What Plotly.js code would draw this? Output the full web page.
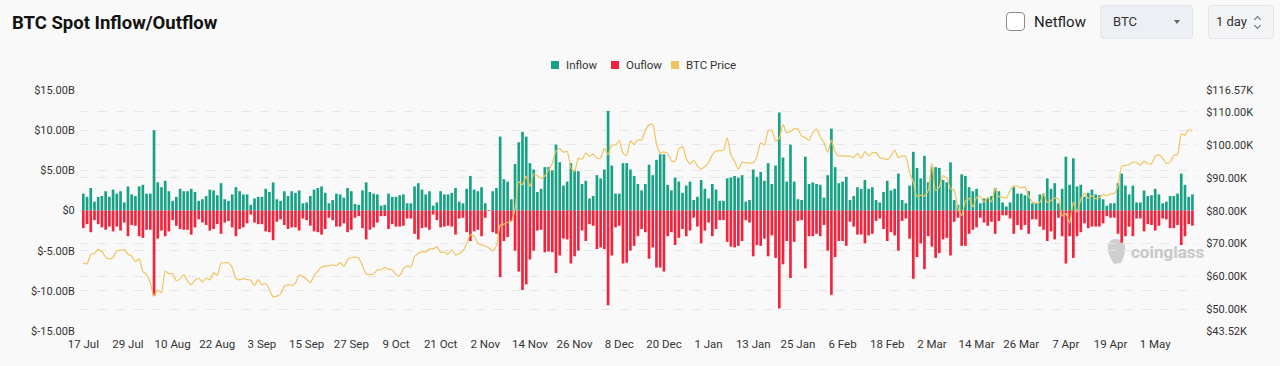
<!DOCTYPE html>
<html><head><meta charset="utf-8">
<script src="https://cdn.plot.ly/plotly-3.0.1.min.js"></script>
<style>
html,body{margin:0;padding:0;background:#f9f9f9;width:1280px;height:366px;overflow:hidden;font-family:Roboto,"Noto Sans",sans-serif;}
#chart{position:absolute;left:0;top:0;width:1280px;height:366px;}
.box{position:absolute;box-sizing:border-box;border-radius:4px;}
.txt{position:absolute;color:#222;white-space:nowrap;}
</style></head><body>
<div id="chart"></div>
<div class="box" style="left:1006px;top:12px;width:19px;height:19px;border:1.5px solid #8c8c8c;background:#fff;border-radius:4px;"></div>
<div class="txt" style="left:1034px;top:12px;font-size:15px;line-height:20px;">Netflow</div>
<div class="box" style="left:1100px;top:5px;width:93px;height:34px;background:#eceff3;border:1px solid #e2e5e9;"></div>
<div class="txt" style="left:1113px;top:5px;font-size:13px;line-height:34px;color:#333;">BTC</div>
<div style="position:absolute;left:1174px;top:20px;width:0;height:0;border-left:3.5px solid transparent;border-right:3.5px solid transparent;border-top:4px solid #666;"></div>
<div class="box" style="left:1208px;top:5px;width:66px;height:34px;background:#f3f4f6;border:1px solid #e3e5e8;"></div>
<div class="txt" style="left:1216px;top:5px;font-size:13px;line-height:34px;color:#333;">1 day</div>
<div style="position:absolute;left:1255px;top:17px;width:4px;height:4px;border-left:1px solid #666;border-top:1px solid #666;transform:rotate(45deg);"></div>
<div style="position:absolute;left:1255px;top:23px;width:4px;height:4px;border-right:1px solid #666;border-bottom:1px solid #666;transform:rotate(45deg);"></div>
<script>
// ---- data ----
const startDate = '2024-07-17';
const tickLabels = ['17 Jul','29 Jul','10 Aug','22 Aug','3 Sep','15 Sep','27 Sep','9 Oct','21 Oct','2 Nov','14 Nov','26 Nov','8 Dec','20 Dec','1 Jan','13 Jan','25 Jan','6 Feb','18 Feb','2 Mar','14 Mar','26 Mar','7 Apr','19 Apr','1 May'];
const seriesNames = ['Inflow','Ouflow','BTC Price'];
// inflow, $B
const inflow = [
2.1,1.7,2.8,1.1,1.7,1.8,2.4,1.7,2.6,2.1,
2.4,1.0,3.0,2.0,1.8,3.0,3.2,2.1,2.1,10.0,
3.5,2.9,3.7,2.4,1.2,1.7,2.7,2.4,2.4,2.7,
2.3,1.2,1.4,1.8,2.6,2.5,1.9,3.4,1.4,1.2,
2.0,2.9,2.4,2.0,2.0,0.7,1.5,1.7,1.7,2.7,
2.3,3.5,1.4,1.2,2.4,1.8,2.4,2.2,2.5,0.9,
1.0,1.8,2.6,2.8,3.0,2.2,0.9,1.3,2.1,2.0,
1.6,2.8,2.4,0.8,0.7,2.5,3.5,2.3,2.1,2.0,
0.6,0.7,2.1,1.7,1.7,1.9,2.0,0.9,0.9,3.0,
3.4,2.6,2.0,2.4,0.6,1.0,2.4,2.0,2.0,2.2,
2.8,1.1,0.9,2.7,4.3,2.6,2.4,2.9,0.9,0.05,
2.4,2.8,9.2,3.9,3.6,1.4,5.8,8.5,9.8,9.2,
5.9,5.1,2.3,2.7,5.4,5.4,5.0,8.2,6.0,3.1,
3.6,5.9,5.0,4.9,3.3,3.7,1.5,1.8,4.4,4.0,
5.1,12.4,5.6,2.1,2.1,5.9,5.9,5.1,4.3,3.3,
2.5,3.3,5.7,4.4,6.3,7.0,7.0,3.2,2.5,4.1,
3.6,2.2,3.1,3.6,1.3,1.7,3.8,2.7,1.5,3.3,
2.6,1.2,1.2,4.0,4.1,4.3,4.1,4.4,1.1,1.3,
5.1,4.2,4.8,3.7,5.9,3.3,5.6,12.2,6.6,3.6,
8.2,3.6,1.4,1.3,6.7,3.3,3.5,3.3,3.2,1.6,
4.4,10.2,5.4,3.4,3.6,4.2,1.3,1.8,2.9,2.7,
3.8,2.7,2.9,1.3,1.0,2.3,3.7,2.5,2.7,4.6,
1.3,0.9,3.1,7.3,5.3,4.0,6.8,3.5,5.4,5.4,
5.3,3.8,3.5,6.0,1.3,0.7,4.5,4.3,2.9,2.4,
2.7,0.9,1.5,1.5,1.8,2.8,2.4,1.0,0.5,1.0,
2.9,2.1,2.1,1.9,2.4,0.9,0.9,2.0,2.1,4.0,
2.7,3.4,0.9,2.7,6.7,3.2,6.5,3.0,3.2,1.7,
2.2,2.6,2.0,1.9,1.4,0.6,0.9,0.9,3.4,4.6,
3.1,2.0,3.1,1.0,1.0,2.5,1.8,1.9,2.7,2.0,
0.9,1.1,1.8,1.8,2.1,4.6,3.2,1.7,2.0
];
// outflow magnitude, $B
const outflow = [
2.2,1.7,2.7,1.2,1.7,2.1,2.4,2.0,2.6,2.0,
2.5,1.5,3.2,1.8,1.9,3.2,3.4,2.4,2.4,10.6,
3.5,2.5,3.2,2.6,1.2,1.9,2.3,2.4,2.4,3.0,
2.1,1.1,1.5,1.8,2.5,2.3,1.7,2.9,1.5,1.3,
2.1,3.2,2.3,2.1,1.6,0.5,1.5,1.7,1.7,2.6,
2.7,3.7,1.4,1.1,1.8,2.3,2.1,2.1,2.5,1.0,
1.2,1.9,2.6,2.7,3.0,2.3,0.9,1.2,2.0,2.0,
1.6,2.7,2.4,0.9,0.7,2.2,3.6,2.4,2.1,1.5,
0.7,0.7,2.3,1.7,2.0,2.0,1.9,1.0,1.0,2.9,
3.6,2.2,2.1,2.4,0.5,1.2,2.1,2.0,1.9,2.0,
3.0,1.0,0.9,2.7,3.8,2.6,2.4,3.2,0.9,0.05,
2.7,2.9,8.3,3.8,3.3,1.3,5.0,7.6,9.9,9.2,
6.1,5.0,2.5,2.4,5.2,5.1,5.2,7.8,5.6,3.5,
3.6,6.6,5.7,5.0,2.5,3.8,1.7,1.9,4.8,4.6,
4.8,11.8,5.6,2.1,1.9,6.6,6.5,5.0,4.4,3.2,
2.3,2.7,6.0,4.6,7.1,7.1,7.6,3.2,2.7,4.3,
3.4,2.3,3.2,2.5,0.9,2.0,4.1,2.5,1.5,3.2,
2.3,1.2,1.2,3.9,4.5,4.6,4.4,3.8,1.2,1.5,
5.7,4.3,4.4,3.5,5.7,3.1,5.9,12.2,6.7,3.8,
8.4,3.9,1.3,1.2,7.2,3.2,3.2,2.9,3.2,1.8,
5.0,10.5,5.8,3.8,3.8,4.4,1.4,2.0,3.0,3.0,
4.1,3.1,2.9,1.3,1.0,2.3,3.8,2.7,3.1,5.0,
1.3,1.0,3.5,8.5,5.8,4.1,7.3,3.2,4.5,5.9,
5.3,3.6,3.4,5.6,1.4,0.9,4.4,4.4,2.9,2.4,
2.1,0.9,1.5,1.9,1.4,2.9,1.3,0.6,0.6,1.0,
2.9,1.8,2.4,1.8,2.9,1.1,1.1,2.0,2.4,3.8,
2.6,3.6,0.9,3.2,6.6,3.2,5.9,3.2,2.7,1.6,
2.2,2.0,2.0,2.0,1.6,0.7,0.9,0.9,2.9,4.0,
3.2,2.0,3.2,1.0,1.0,2.6,1.7,1.8,2.5,1.9,
1.0,1.1,2.2,2.2,1.8,4.3,3.2,1.7,1.9
];
// BTC price, $K
const price = [
64.1,63.9,66.7,67.1,68.2,67.6,65.9,65.4,65.8,67.9,
68.0,68.2,66.8,66.2,64.6,65.3,61.5,60.7,58.1,54.0,
56.0,55.1,61.7,60.9,60.9,58.7,59.4,60.6,58.7,57.5,
58.9,59.5,58.4,59.5,59.0,61.2,60.4,64.1,64.2,64.2,
62.8,59.4,59.0,59.4,59.1,58.9,57.3,59.1,57.5,58.0,
56.2,53.9,54.1,54.8,57.0,57.6,57.3,58.1,60.5,60.0,
59.2,58.2,60.3,61.7,62.9,63.2,63.3,63.6,63.3,64.3,
63.1,65.2,65.8,65.9,65.6,63.3,60.8,60.6,60.8,62.1,
62.1,62.8,62.2,62.1,60.6,60.3,62.4,63.2,62.9,66.1,
67.0,67.6,67.4,68.4,68.4,69.0,67.4,67.4,66.7,68.2,
66.6,67.0,67.9,69.9,72.7,72.3,70.2,69.5,69.3,68.7,
67.8,69.4,75.6,75.9,76.5,76.7,80.5,88.7,87.9,90.5,
87.3,91.1,90.6,89.8,90.5,92.3,94.3,98.0,98.9,97.7,
98.0,93.0,91.9,95.9,95.6,97.5,96.4,97.2,95.9,96.0,
98.8,97.0,99.9,99.9,101.2,97.4,96.7,101.2,100.0,101.5,
101.4,104.3,106.0,106.1,100.2,97.5,97.8,97.2,95.2,94.9,
98.7,99.4,95.8,94.2,95.2,93.6,92.6,93.4,94.6,96.9,
98.1,98.2,98.3,102.1,96.9,95.0,92.5,94.7,94.5,94.5,
94.5,96.5,100.5,99.9,104.1,104.4,101.1,102.0,106.1,103.6,
104.0,104.8,104.7,102.6,102.1,101.3,103.7,104.7,102.4,100.6,
97.7,101.4,97.8,96.6,96.6,96.5,96.5,96.1,97.4,95.8,
97.9,96.6,97.5,97.6,96.1,95.8,95.5,96.6,98.3,96.1,
96.6,96.3,91.6,88.7,84.3,84.7,84.4,86.0,94.3,86.1,
87.2,90.6,89.9,86.7,86.2,80.7,78.5,82.9,83.7,81.1,
84.0,84.3,82.6,84.1,82.7,86.8,84.2,84.0,83.8,86.1,
87.5,87.4,86.9,87.2,84.4,82.6,82.3,82.5,85.2,82.5,
83.1,83.8,83.5,78.4,79.1,76.3,82.6,79.6,83.4,85.3,
83.7,84.5,83.6,84.0,84.9,84.5,85.1,85.2,87.5,93.4,
93.7,93.9,94.7,94.6,93.8,95.0,94.3,94.2,96.5,96.9,
95.9,94.3,94.7,96.8,97.0,103.2,102.9,104.6,104.1
];
const leftTicks = [-15,-10,-5,0,5,10,15];
const leftTickText = ['$-15.00B','$-10.00B','$-5.00B','$0','$5.00B','$10.00B','$15.00B'];
const rightTicks = [43.52,50,60,70,80,90,100,110,116.57];
const rightTickText = ['$43.52K','$50.00K','$60.00K','$70.00K','$80.00K','$90.00K','$100.00K','$110.00K','$116.57K'];

// ---- build ----
const DAY = 86400000;
const t0 = Date.parse(startDate + 'T00:00:00Z');
const iso = ms => new Date(ms).toISOString().replace('T',' ').slice(0,19);
const dates = inflow.map((_, i) => iso(t0 + i * DAY).slice(0,10));
const tickVals = tickLabels.map((_, i) => dates[i * 12]);

const GREEN = '#17a285', RED = '#f4233d', GOLD = '#f0c45e';
const traces = [
  {type:'bar', x:dates, y:inflow, name:seriesNames[0], marker:{color:GREEN, line:{width:0}}, hoverinfo:'skip', showlegend:false},
  {type:'bar', x:dates, y:outflow.map(v => -v), name:seriesNames[1], marker:{color:RED, line:{width:0}}, hoverinfo:'skip', showlegend:false},
  {type:'scatter', mode:'lines', x:dates, y:price, name:seriesNames[2], yaxis:'y2', line:{color:GOLD, width:1.2, shape:'spline', smoothing:0.6}, hoverinfo:'skip', showlegend:false}
];

const L = 80, R = 1198, T = 90, B = 331;
const px = v => (v - L) / (R - L);
const py = v => (B - v) / (B - T);
const legendItems = [{c:GREEN, x:551}, {c:RED, x:611}, {c:GOLD, x:671}];
const shapes = legendItems.map(it => ({type:'rect', xref:'paper', yref:'paper', x0:px(it.x), x1:px(it.x+8), y0:py(69), y1:py(61), fillcolor:it.c, line:{width:0}}));
shapes.push({type:'path', xref:'paper', yref:'paper', layer:'below',
  path:`M ${px(1108)} ${py(245)} Q ${px(1110)} ${py(238)} ${px(1117)} ${py(239)} Q ${px(1126)} ${py(240)} ${px(1125)} ${py(250)} Q ${px(1124)} ${py(258)} ${px(1121)} ${py(263)} L ${px(1114)} ${py(264)} Q ${px(1110)} ${py(258)} ${px(1108)} ${py(252)} Z`,
  fillcolor:'#cfcfcf', line:{width:0}});
const annotations = legendItems.map((it, i) => ({xref:'paper', yref:'paper', x:px(it.x+13), y:py(65.5), xanchor:'left', yanchor:'middle', text:seriesNames[i], showarrow:false, font:{size:11.5, color:'#333'}}));
annotations.push({xref:'paper', yref:'paper', x:px(1129), y:py(252), xanchor:'left', yanchor:'middle', text:'<b>coinglass</b>', showarrow:false, font:{size:17, color:'#c8c8c8'}});

const layout = {
  width:1280, height:366,
  margin:{l:L, r:1280-R, t:T, b:366-B},
  paper_bgcolor:'#f9f9f9', plot_bgcolor:'#f9f9f9',
  font:{family:'Roboto, "Noto Sans", sans-serif', size:11, color:'#333'},
  title:{text:'<b>BTC Spot Inflow/Outflow</b>', x:12/1280, xref:'container', xanchor:'left', y:1-23/366, yref:'container', yanchor:'middle', font:{size:18.5, color:'#111'}},
  barmode:'relative', bargap:0.28,
  showlegend:false,
  xaxis:{type:'date', range:[iso(t0 - 0.89*DAY), iso(t0 + 299.5*DAY)], tickmode:'array', tickvals:tickVals, ticktext:tickLabels,
    showgrid:false, zeroline:false, showline:false, ticks:'outside', ticklen:2, tickcolor:'rgba(0,0,0,0)', tickfont:{size:11.5, color:'#333'}},
  yaxis:{range:[-15,15], tickmode:'array', tickvals:leftTicks, ticktext:leftTickText, showgrid:true, gridcolor:'#e6e6e6', griddash:'dash', gridwidth:1,
    zeroline:false, showline:false, ticks:'outside', ticklen:2, tickcolor:'rgba(0,0,0,0)', tickfont:{size:11, color:'#333'}},
  yaxis2:{overlaying:'y', side:'right', range:[43.52,116.57], tickmode:'array', tickvals:rightTicks, ticktext:rightTickText, showgrid:true, gridcolor:'#e6e6e6', griddash:'dash', gridwidth:1,
    zeroline:false, showline:false, ticks:'outside', ticklen:5, tickcolor:'rgba(0,0,0,0)', tickfont:{size:11, color:'#333'}},
  shapes:shapes, annotations:annotations
};
Plotly.newPlot('chart', traces, layout, {staticPlot:true, displayModeBar:false});
</script>
</body></html>
